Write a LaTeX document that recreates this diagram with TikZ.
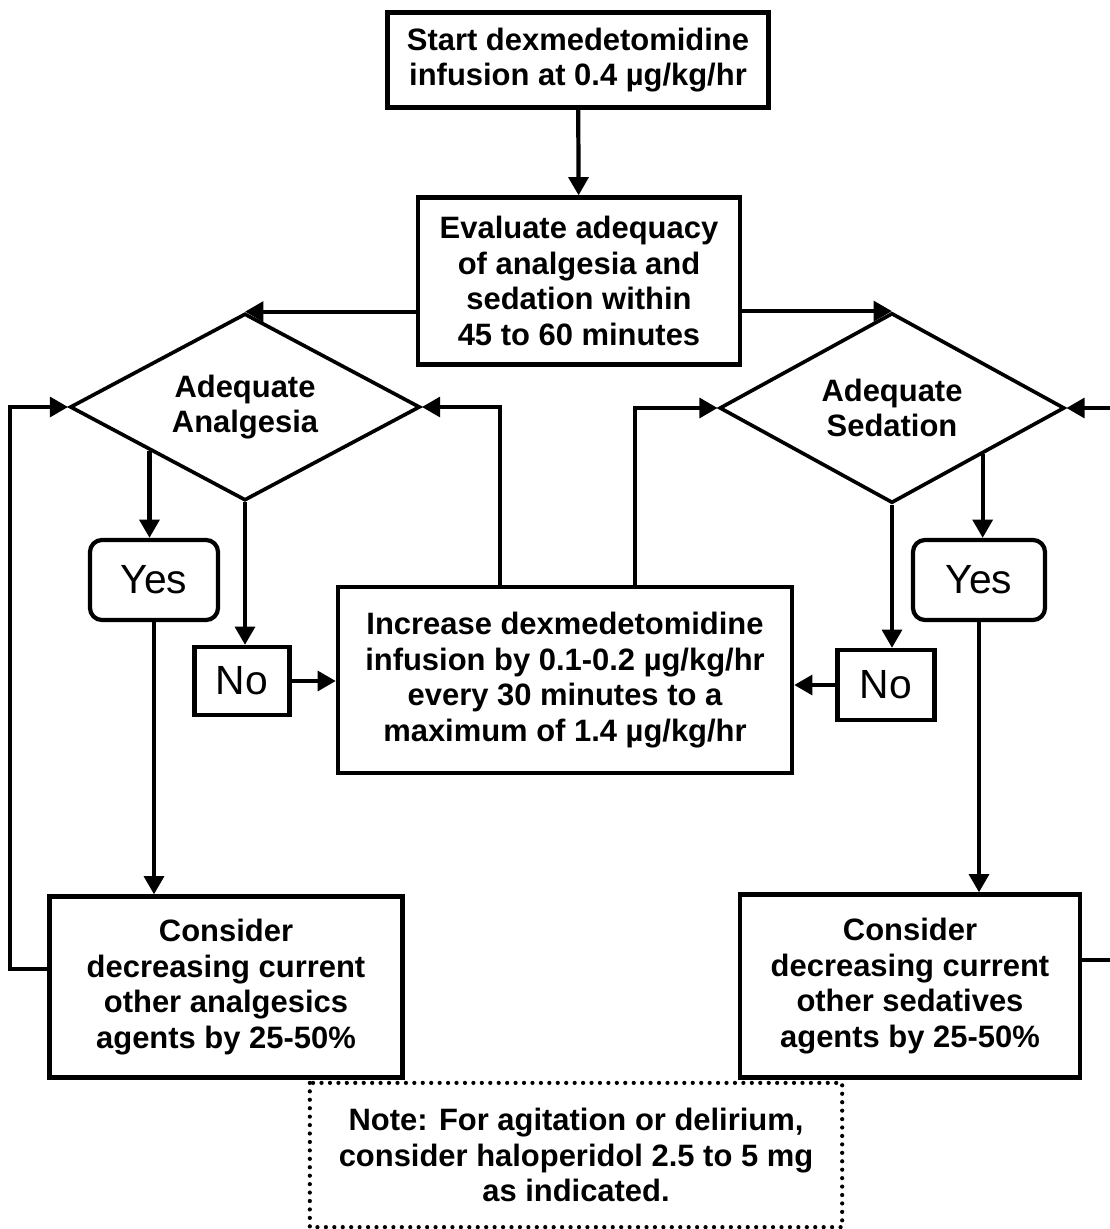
\documentclass[tikz,border=0pt]{standalone}
\usepackage{fontspec}
\setmainfont{Liberation Sans}
\usetikzlibrary{shapes.geometric,arrows.meta,calc}

\begin{document}
\begin{tikzpicture}[x=0.025cm, y=-0.025cm, line width=3pt,
  >={Triangle[length=13pt,width=14pt]},
  box/.style={draw, rectangle, align=center, inner sep=0pt, font=\bfseries\fontsize{22}{25.5}\selectfont},
  choice/.style={draw, diamond, shape aspect=1.87, align=center, inner sep=0pt, line width=2.6pt, font=\bfseries\fontsize{22}{25.5}\selectfont},
  answer/.style={draw, rectangle, inner sep=0pt, font=\fontsize{29}{32}\selectfont},
  notebox/.style={box, draw=none}]
\useasboundingbox (0,0) rectangle (1110,1229);
% boxes
\node (start) [box, minimum width=9.525cm, minimum height=2.375cm] at (578,60) {Start dexmedetomidine\\infusion at 0.4 µg/kg/hr};
\node (eval) [box, minimum width=8.05cm, minimum height=4.175cm] at (579,281) {Evaluate adequacy\\of analgesia and\\sedation within\\45 to 60 minutes};
\node (ana) [choice, minimum width=8.75cm, minimum height=4.675cm] at (245,407) {Adequate\\Analgesia};
\node (sed) [choice, minimum width=8.625cm, minimum height=4.75cm] at (892,408) {Adequate\\Sedation};
\node (yesl) [answer, rounded corners=0.3cm, minimum width=3.2cm, minimum height=2cm] at (154,580) {Yes};
\node (nol) [answer, minimum width=2.375cm, minimum height=1.7cm] at (242,681) {No};
\node (inc) [box, minimum width=11.35cm, minimum height=4.65cm] at (565,680) {Increase dexmedetomidine\\infusion by 0.1-0.2 µg/kg/hr\\every 30 minutes to a\\maximum of 1.4 µg/kg/hr};
\node (nor) [answer, minimum width=2.425cm, minimum height=1.75cm] at (886,685) {No};
\node (yesr) [answer, rounded corners=0.3cm, minimum width=3.3cm, minimum height=2cm] at (979,580) {Yes};
\node (consl) [box, minimum width=8.825cm, minimum height=4.525cm] at (226,987) {Consider\\decreasing current\\other analgesics\\agents by 25-50\%};
\node (consr) [box, minimum width=8.5cm, minimum height=4.575cm] at (910,986) {Consider\\decreasing current\\other sedatives\\agents by 25-50\%};
\node (note) [notebox, minimum width=13.2cm, minimum height=3.5cm] at (576,1155) {Note: For agitation or delirium,\\consider haloperidol 2.5 to 5 mg\\as indicated.};
\draw [dash pattern=on 0pt off 6pt, line cap=round] (note.north west) rectangle (note.south east);
% where the yes lines leave the diamonds
\coordinate (anayes) at ($(ana.west)!0.46!(ana.south)$);
\coordinate (sedyes) at ($(sed.south)!0.52!(sed.east)$);
% connectors
\draw [->] (start) -- (eval);
\draw [->] (eval.west |- ana.north) -- (ana.north);
\draw [->] (eval.east |- sed.north) -- (sed.north);
\draw [->] (anayes) -- (anayes |- yesl.north);
\draw [->] (ana.south) -- (ana.south |- nol.north);
\draw [->] (sedyes) -- (sedyes |- yesr.north);
\draw [->] (sed.south) -- (sed.south |- nor.north);
\draw [->] (nol.east) -- (nol.east -| inc.west);
\draw [->] (nor.west) -- (nor.west -| inc.east);
\draw [->] ([xshift=-1.625cm]inc.north) |- (ana.east);
\draw [->] ([xshift=1.75cm]inc.north) |- (sed.west);
\draw [->] (yesl) -- (yesl |- consl.north);
\draw [->] (yesr) -- (yesr |- consr.north);
\draw [->] ([yshift=0.45cm]consl.west) -- ++(-37,0) |- (ana.west);
\draw [->] ([yshift=0.65cm]consr.east) -- ++(45,0) |- (sed.east);
\end{tikzpicture}
\end{document}
